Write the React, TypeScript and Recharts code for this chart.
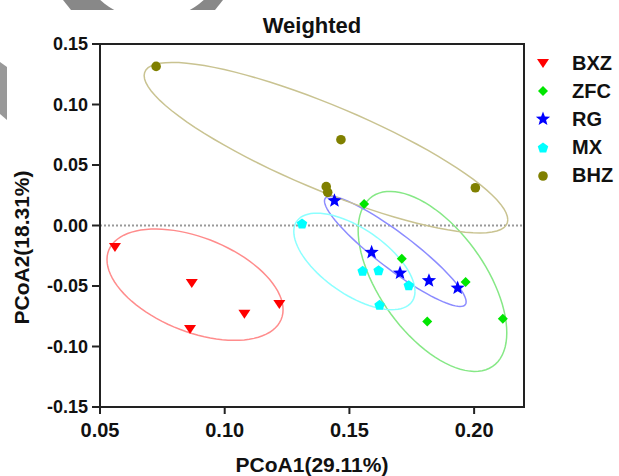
import React from 'react'
import { ScatterChart, Scatter, XAxis, YAxis, ReferenceLine, ReferenceArea, Legend } from 'recharts'

const groups = ['BXZ', 'ZFC', 'RG', 'MX', 'BHZ']
const colors = ['#ff0000', '#00e600', '#0000ff', '#00ffff', '#808000']
const ringColors = ['#ff8c8c', '#86e886', '#8c8cff', '#8cffff', '#c9c391']

// sample coordinates
const bxzX = [0.056, 0.0868, 0.0861, 0.1079, 0.1219]
const bxzY = [-0.0178, -0.0475, -0.0855, -0.0729, -0.0649]
const zfcX = [0.1559, 0.171, 0.1966, 0.1812, 0.2115]
const zfcY = [0.0178, -0.0274, -0.0467, -0.0793, -0.077]
const rgX = [0.144, 0.1589, 0.1703, 0.1819, 0.1934]
const rgY = [0.0205, -0.0222, -0.0393, -0.0456, -0.0517]
const mxX = [0.131, 0.1553, 0.1617, 0.1738, 0.1621]
const mxY = [0.0012, -0.0379, -0.0374, -0.0498, -0.066]
const bhzX = [0.0725, 0.1466, 0.1407, 0.1413, 0.2005]
const bhzY = [0.1315, 0.0709, 0.0321, 0.0274, 0.0312]

// ellipses: centre, half range in x / y, tilt (correlation)
const ellCx = [0.0881, 0.1833, 0.1684, 0.152, 0.1406]
const ellCy = [-0.0489, -0.0462, -0.0214, -0.0297, 0.0643]
const ellHx = [0.0353, 0.0298, 0.0284, 0.0243, 0.0729]
const ellHy = [0.046, 0.0744, 0.0455, 0.0399, 0.0705]
const ellRho = [-0.45, -0.57, -0.915, -0.62, -0.845]

const xTicks = [0.05, 0.1, 0.15, 0.2]
const yTicks = [-0.15, -0.1, -0.05, 0, 0.05, 0.1, 0.15]

const allX = [bxzX, zfcX, rgX, mxX, bhzX]
const allY = [bxzY, zfcY, rgY, mxY, bhzY]

const points = allX.map((xs, g) => xs.map((x, i) => ({ x, y: allY[g][i] })))

const ellipse = (g: number) => {
  const out: { x: number; y: number }[] = []
  const s = Math.sqrt(1 - ellRho[g] * ellRho[g])
  for (let k = 0; k <= 90; k++) {
    const t = (k / 90) * Math.PI * 2
    out.push({
      x: ellCx[g] + ellHx[g] * Math.cos(t),
      y: ellCy[g] + ellHy[g] * (ellRho[g] * Math.cos(t) + s * Math.sin(t)),
    })
  }
  return out
}

const FONT = '"Liberation Sans", Arial, sans-serif'

const starPts = (cx: number, cy: number, ro: number, ri: number) => {
  const p: string[] = []
  for (let k = 0; k < 10; k++) {
    const r = k % 2 === 0 ? ro : ri
    const a = -Math.PI / 2 + (k * Math.PI) / 5
    p.push(`${cx + r * Math.cos(a)},${cy + r * Math.sin(a)}`)
  }
  return p.join(' ')
}

const pentPts = (cx: number, cy: number, r: number) => {
  const p: string[] = []
  for (let k = 0; k < 5; k++) {
    const a = -Math.PI / 2 + (k * 2 * Math.PI) / 5
    p.push(`${cx + r * Math.cos(a)},${cy + r * Math.sin(a)}`)
  }
  return p.join(' ')
}

const Marker = ({ g, cx, cy }: { g: number; cx: number; cy: number }) => {
  const fill = colors[g]
  if (g === 0) return <polygon points={`${cx - 6},${cy - 4} ${cx + 6},${cy - 4} ${cx},${cy + 5}`} fill={fill} />
  if (g === 1) return <polygon points={`${cx},${cy - 5} ${cx + 5},${cy} ${cx},${cy + 5} ${cx - 5},${cy}`} fill={fill} />
  if (g === 2) return <polygon points={starPts(cx, cy, 7.5, 3.2)} fill={fill} />
  if (g === 3) return <polygon points={pentPts(cx, cy, 5.5)} fill={fill} />
  return <circle cx={cx} cy={cy} r={4.8} fill={fill} />
}

const noShape = () => <g />

const renderLegend = () => (
  <div style={{ fontFamily: FONT }}>
    {groups.map((name, i) => (
      <div key={name} style={{ display: 'flex', alignItems: 'center', height: 28.2 }}>
        <svg width={20} height={20}>
          <Marker g={i} cx={10} cy={10} />
        </svg>
        <span style={{ marginLeft: 19, fontSize: 20, fontWeight: 'bold', color: '#111' }}>{name}</span>
      </div>
    ))}
  </div>
)

export default function App() {
  return (
    <div style={{ position: 'absolute', left: 0, top: 0, width: 619, height: 476, background: '#fff' }}>
      <ScatterChart width={619} height={476} margin={{ top: 44, right: 95, bottom: 29, left: 0 }}>
        <XAxis
          type="number"
          dataKey="x"
          domain={[0.05, 0.22]}
          ticks={xTicks}
          allowDataOverflow
          height={40}
          tickFormatter={(v: number) => v.toFixed(2)}
          axisLine={{ stroke: '#222', strokeWidth: 2 }}
          tickLine={{ stroke: '#222', strokeWidth: 2 }}
          tickSize={7}
          tickMargin={9}
          tick={{ fontSize: 20, fontWeight: 'bold', fill: '#111', fontFamily: FONT }}
          label={{ value: 'PCoA1(29.11%)', position: 'bottom', offset: 10, fontSize: 21, fontWeight: 'bold', fill: '#111', fontFamily: FONT }}
        />
        <YAxis
          type="number"
          dataKey="y"
          domain={[-0.15, 0.15]}
          ticks={yTicks}
          allowDataOverflow
          width={100}
          tickFormatter={(v: number) => v.toFixed(2)}
          axisLine={{ stroke: '#222', strokeWidth: 2 }}
          tickLine={{ stroke: '#222', strokeWidth: 2 }}
          tickSize={8}
          tickMargin={4}
          tick={{ fontSize: 18, fontWeight: 'bold', fill: '#111', fontFamily: FONT }}
          label={{ value: 'PCoA2(18.31%)', position: 'center', angle: -90, dx: -28, dy: 22, fontSize: 21, fontWeight: 'bold', fill: '#111', fontFamily: FONT }}
        />
        <ReferenceArea
          x1={0.05}
          x2={0.22}
          y1={-0.15}
          y2={0.15}
          fill="none"
          stroke="#222"
          strokeWidth={2}
          label={{ value: 'Weighted', position: 'top', offset: 11, fontSize: 22, fontWeight: 'bold', fill: '#111', fontFamily: FONT }}
        />
        <ReferenceLine y={0} stroke="#999" strokeWidth={2} strokeDasharray="2 2" />
        {groups.map((name, g) => (
          <Scatter
            key={`ell-${name}`}
            data={ellipse(g)}
            line={{ stroke: ringColors[g], strokeWidth: 1.5 }}
            lineJointType="linear"
            shape={noShape}
            fill="none"
            legendType="none"
            isAnimationActive={false}
          />
        ))}
        {groups.map((name, g) => (
          <Scatter
            key={name}
            name={name}
            data={points[g]}
            fill={colors[g]}
            shape={(p: any) => <Marker g={g} cx={p.cx} cy={p.cy} />}
            isAnimationActive={false}
          />
        ))}
        <Legend
          layout="vertical"
          align="center"
          verticalAlign="middle"
          wrapperStyle={{ left: 533, top: 49, width: 86 }}
          content={renderLegend}
        />
      </ScatterChart>
      <svg width={619} height={476} style={{ position: 'absolute', left: 0, top: 0, pointerEvents: 'none' }}>
        <polygon points="63,0 223,0 215,10 71,10" fill="#888" />
        <circle cx={152} cy={-57} r={77} fill="#fff" />
        <polygon points="0,62 7,67 7,120 0,114" fill="#999" />
      </svg>
    </div>
  )
}
